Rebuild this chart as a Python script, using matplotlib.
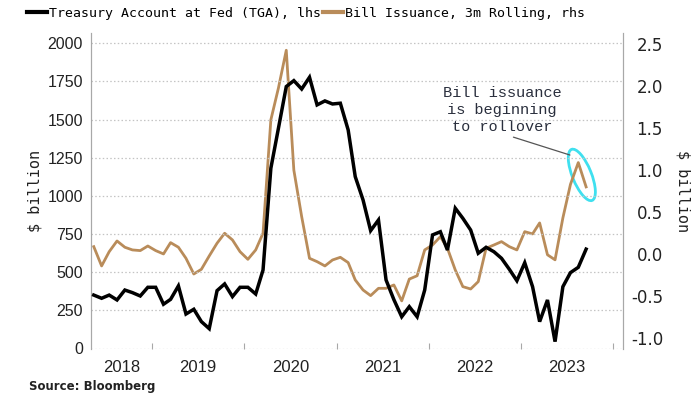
import matplotlib
matplotlib.use('Agg')
import matplotlib.pyplot as plt
import matplotlib.dates as mdates
from matplotlib.font_manager import fontManager
from matplotlib.lines import Line2D
from matplotlib.patches import Ellipse
from matplotlib.transforms import ScaledTranslation
import pandas as pd

##################################################
# data, monthly May 2018 - Sep 2023
##################################################
months = pd.date_range('2018-05-01', '2023-09-01', freq='MS') + pd.Timedelta(days=14)

# Treasury Account at Fed (TGA), $ billion, lhs
tga = [350, 329, 350, 318, 383, 366, 344, 401,
       401, 290, 322, 410, 226, 257, 176, 130, 379, 423, 340, 401,
       401, 357, 514, 1181, 1443, 1716, 1755, 1700, 1777, 1596, 1622, 1602,
       1607, 1432, 1126, 973, 772, 842, 449, 320, 208, 274, 208, 383,
       744, 765, 645, 919, 853, 776, 624, 663, 634, 591, 519, 444,
       562, 405, 176, 318, 45, 405, 497, 532, 651]

# Bill issuance, 3m rolling, $ billion, rhs
bills = [0.087, -0.143, 0.027, 0.155, 0.08, 0.048, 0.04, 0.095,
         0.04, 0.0, 0.135, 0.08, -0.052, -0.239, -0.183, -0.024, 0.128, 0.247, 0.167, 0.027,
         -0.064, 0.048, 0.247, 1.60, 1.98, 2.43, 1.00, 0.445, -0.052, -0.092, -0.143, -0.072,
         -0.04, -0.103, -0.31, -0.43, -0.497, -0.41, -0.41, -0.37, -0.56, -0.30, -0.26, 0.048,
         0.107, 0.206, 0.068, -0.191, -0.39, -0.418, -0.33, 0.068, 0.107, 0.147, 0.087, 0.048,
         0.266, 0.239, 0.37, -0.01, -0.07, 0.43, 0.83, 1.09, 0.80]

years = ['2018', '2019', '2020', '2021', '2022', '2023']
left_ticks = [0, 250, 500, 750, 1000, 1250, 1500, 1750, 2000]
right_ticks = [-1.0, -0.5, 0.0, 0.5, 1.0, 1.5, 2.0, 2.5]

BROWN = '#b98c5a'
GRID = '#c4c4c4'
SPINE = '#a8a8a8'

names = {f.name for f in fontManager.ttflist}
narrow = 'Liberation Sans Narrow' if 'Liberation Sans Narrow' in names else 'Liberation Sans'
nsize = 13 if narrow == 'Liberation Sans Narrow' else 11.5
mono = 'DejaVu Sans Mono'
typew = 'Liberation Mono'

##################################################
# figure
##################################################
fig = plt.figure(figsize=(7.0, 3.94), dpi=100)
ax = fig.add_axes([91 / 700, 1 - 348.5 / 394, (623 - 91) / 700, (348.5 - 33) / 394])
ax2 = ax.twinx()
ax.set_zorder(ax2.get_zorder() + 1)
ax.patch.set_visible(False)

ax.plot(months, tga, color='black', lw=2.5, solid_joinstyle='miter', zorder=3)
ax2.plot(months, bills, color=BROWN, lw=2.0, zorder=2)

ax.set_xlim(pd.Timestamp('2018-05-04'), pd.Timestamp('2024-02-08'))
ax.set_ylim(0, 2067)
ax2.set_ylim(-1.128, 2.636)

# y axes
ax.set_yticks(left_ticks)
ax.set_yticklabels([str(v) for v in left_ticks], family=narrow, fontsize=nsize, color='#222222')
ax.tick_params(axis='y', length=0, pad=5.8)
ax.grid(axis='y', linestyle=(0, (1.2, 1.8)), color=GRID, lw=0.9)

ax2.set_yticks(right_ticks)
ax2.set_yticklabels(['%.1f' % v for v in right_ticks], fontsize=12, color='#222222')
for lab in ax2.get_yticklabels():
    lab.set_ha('right')
ax2.tick_params(axis='y', length=0, pad=28.8)

# x axis: ticks at year boundaries, labels centred in each year
ax.set_xticks([pd.Timestamp('%d-01-01' % y) for y in range(2019, 2025)])
ax.set_xticklabels([])
ax.tick_params(axis='x', which='major', direction='in', length=4, color=SPINE)
label_pos = [pd.Timestamp('2018-09-02')] + [pd.Timestamp('%s-07-02' % y) for y in years[1:]]
ax.set_xticks(label_pos, minor=True)
ax.set_xticklabels(years, minor=True, family=narrow, fontsize=nsize + 0.5, color='#222222')
ax.tick_params(axis='x', which='minor', length=0, pad=8.5)

for a in (ax, ax2):
    a.spines['top'].set_visible(False)
    a.spines['bottom'].set_visible(False)
    a.spines['left'].set_color(SPINE)
    a.spines['right'].set_color(SPINE)

# axis titles
fig.text(35 / 700, 1 - 191 / 394, '$ billion', rotation=90, ha='center', va='center',
         family=mono, fontsize=11, color='#222222')
fig.text(683 / 700, 1 - 191 / 394, '$ billion', rotation=270, ha='center', va='center',
         family=mono, fontsize=11, color='#222222')

# legend
handles = [Line2D([], [], color='black', lw=3),
           Line2D([], [], color=BROWN, lw=3)]
fig.legend(handles, ['Treasury Account at Fed (TGA), lhs', 'Bill Issuance, 3m Rolling, rhs'],
           loc='center left', bbox_to_anchor=(27 / 700, 1 - 13 / 394), ncol=2,
           frameon=False, borderpad=0, borderaxespad=0, handlelength=1.5,
           handletextpad=0.15, columnspacing=0.2, prop={'family': mono, 'size': 9.5})

# annotation
ax2.annotate('Bill issuance\nis beginning\nto rollover',
             xy=(pd.Timestamp('2023-07-13'), 1.18), xytext=(pd.Timestamp('2022-10-17'), 1.72),
             ha='center', va='center', family=typew, fontsize=11, color='#2a2f3d',
             linespacing=1.25,
             arrowprops=dict(arrowstyle='-', color='#555555', lw=0.9, relpos=(0.5, 0.0),
                             shrinkA=2, shrinkB=0))
ring = Ellipse((0, 0), width=0.19, height=0.55, angle=22, fill=False, edgecolor='#3fe0ef',
               lw=2.0, transform=fig.dpi_scale_trans + ScaledTranslation(
                   mdates.date2num(pd.Timestamp('2023-08-29')), 0.943, ax2.transData))
ax2.add_patch(ring)

fig.text(29 / 700, 1 - 393 / 394, 'Source: Bloomberg', ha='left', va='bottom',
         fontsize=8.5, weight='bold', color='#222222')

fig.savefig('out.png', dpi=100)
